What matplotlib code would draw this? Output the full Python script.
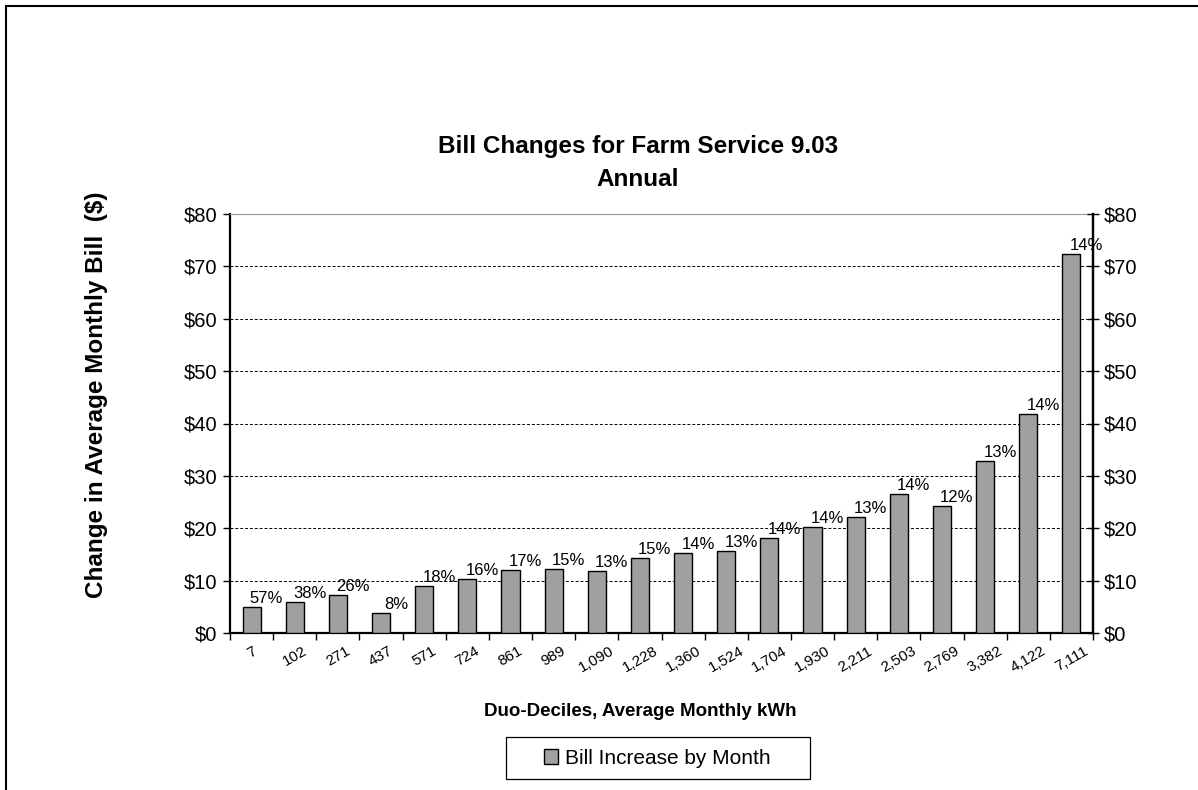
import matplotlib
matplotlib.use("Agg")
import matplotlib.pyplot as plt
from matplotlib.patches import Rectangle

# duo-decile average monthly kWh (x categories)
kwh_labels = ["7", "102", "271", "437", "571", "724", "861", "989", "1,090", "1,228",
              "1,360", "1,524", "1,704", "1,930", "2,211", "2,503", "2,769", "3,382",
              "4,122", "7,111"]
# change in average monthly bill ($)
bill_change = [5.0, 5.9, 7.3, 3.8, 9.0, 10.3, 12.0, 12.3, 11.8, 14.3,
               15.2, 15.7, 18.2, 20.2, 22.2, 26.6, 24.2, 32.9, 41.9, 72.4]
# percent increase labels
pct_change = [57, 38, 26, 8, 18, 16, 17, 15, 13, 15,
              14, 13, 14, 14, 13, 14, 12, 13, 14, 14]
y_ticks = [0, 10, 20, 30, 40, 50, 60, 70, 80]

plt.rcParams["font.family"] = ["Liberation Sans", "DejaVu Sans"]

W, H = 1198, 790
fig = plt.figure(figsize=(W / 100, H / 100), dpi=100)

# outer chart frame (only top and left edges visible)
fig.patches.append(Rectangle((6 / W, -0.05), 1.2, 1 - 6 / H + 0.05,
                             transform=fig.transFigure, fill=False,
                             edgecolor="black", linewidth=1.5))

ax = fig.add_axes([230 / W, 1 - 633 / H, (1093 - 230) / W, (633 - 214) / H])

x = list(range(len(kwh_labels)))
bars = ax.bar(x, bill_change, width=0.42, color="#A0A0A0",
              edgecolor="black", linewidth=1.0, zorder=3,
              label="Bill Increase by Month")

# percent labels above bars
for xi, v, p in zip(x, bill_change, pct_change):
    ax.annotate(f"{p}%", (xi, v), xytext=(15, 1), textcoords="offset pixels",
                ha="center", va="bottom", fontsize=12, zorder=4)

ax.set_xlim(-0.5, len(kwh_labels) - 0.5)
ax.set_ylim(0, 80)
ax.set_yticks(y_ticks)
ax.set_yticklabels([f"${t}" for t in y_ticks], fontsize=14.5)
ax.yaxis.grid(True, linestyle=(0, (3, 2)), color="black", linewidth=0.7, zorder=0)

# x ticks on category boundaries, labels centred under bars
ax.set_xticks([i - 0.5 for i in range(len(kwh_labels) + 1)])
ax.set_xticklabels([])
ax.set_xticks(x, minor=True)
ax.set_xticklabels(kwh_labels, minor=True, rotation=30, fontsize=11,
                   ha="center", va="top")
ax.tick_params(axis="x", which="major", direction="out", length=5, width=1)
ax.tick_params(axis="x", which="minor", length=0, pad=8)
ax.tick_params(axis="y", direction="out", length=5, width=1, pad=4)

for side in ["left", "right", "bottom"]:
    ax.spines[side].set_linewidth(1.6)
ax.spines["top"].set_color("#999999")
ax.spines["top"].set_linewidth(0.8)

# mirrored right axis
ax2 = ax.twinx()
ax2.set_ylim(0, 80)
ax2.set_yticks(y_ticks)
ax2.set_yticklabels([f"${t}" for t in y_ticks], fontsize=14.5)
ax2.tick_params(axis="y", direction="inout", length=8, width=1, pad=4)
ax2.spines["right"].set_linewidth(1.6)
for side in ["left", "top", "bottom"]:
    ax2.spines[side].set_visible(False)

fig.text(638 / W, 1 - 147 / H, "Bill Changes for Farm Service 9.03",
         ha="center", va="center", fontsize=17.5, fontweight="bold")
fig.text(638 / W, 1 - 179 / H, "Annual",
         ha="center", va="center", fontsize=17.5, fontweight="bold")
fig.text(97 / W, 1 - 395 / H, "Change in Average Monthly Bill  ($)",
         ha="center", va="center", rotation=90, fontsize=17.5, fontweight="bold")
fig.text(640 / W, 1 - 711 / H, "Duo-Deciles, Average Monthly kWh",
         ha="center", va="center", fontsize=13.5, fontweight="bold")

# legend: box drawn separately to get Excel-like wide padding
fig.patches.append(Rectangle((506 / W, 1 - 779 / H), (810 - 506) / W, 42 / H,
                             transform=fig.transFigure, fill=False,
                             edgecolor="black", linewidth=0.9))
leg = fig.legend(handles=[bars], loc="center", bbox_to_anchor=(657 / W, 1 - 758 / H),
                 fontsize=15, frameon=False,
                 handlelength=0.7, handleheight=0.7, handletextpad=0.3,
                 borderpad=0.2)

fig.savefig("out.png", dpi=100)
